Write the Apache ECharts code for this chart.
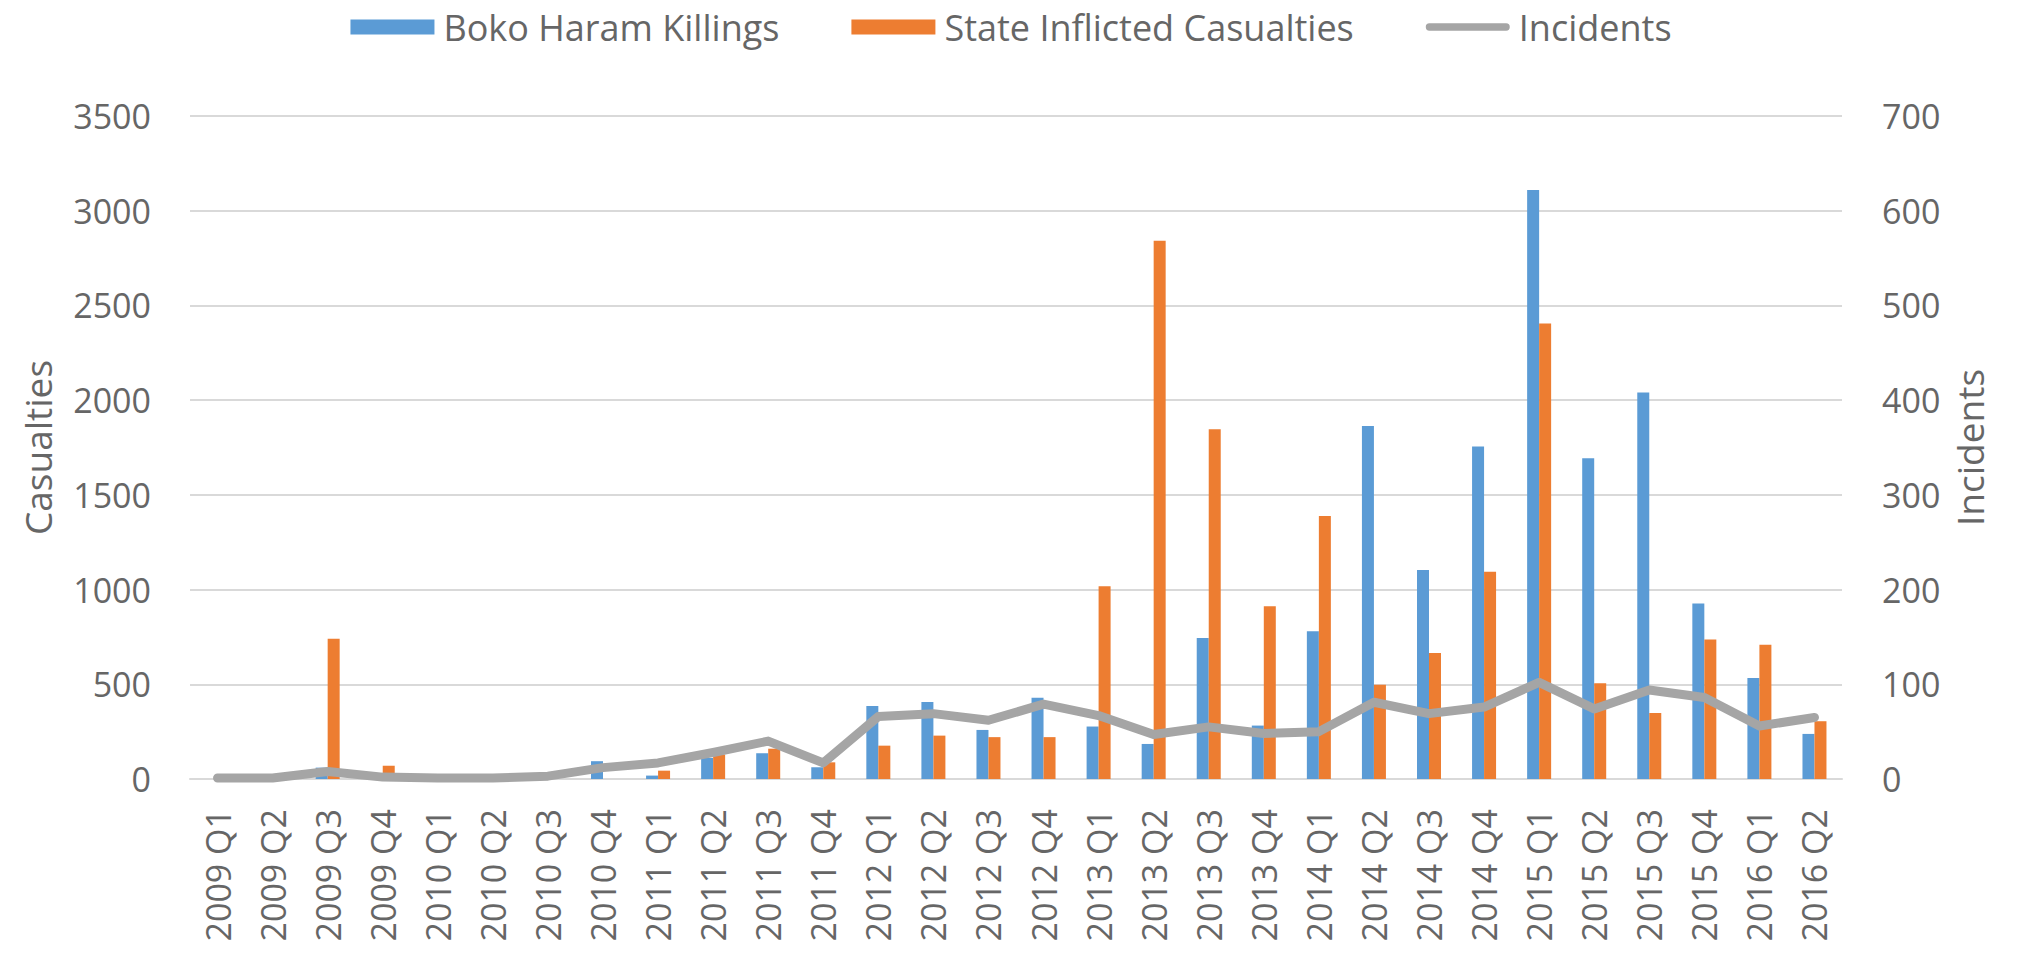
<!DOCTYPE html>
<html>
<head>
<meta charset="utf-8">
<title>Boko Haram Killings, State Inflicted Casualties and Incidents</title>
<script src="https://cdn.jsdelivr.net/npm/echarts@6/dist/echarts.min.js"></script>
<style>
  html, body { margin: 0; padding: 0; background: #ffffff; }
  #chart { width: 2022px; height: 954px; }
</style>
</head>
<body>
<div id="chart"></div>
<script>
// Quarterly periods
const quarters = [
  '2009 Q1', '2009 Q2', '2009 Q3', '2009 Q4',
  '2010 Q1', '2010 Q2', '2010 Q3', '2010 Q4',
  '2011 Q1', '2011 Q2', '2011 Q3', '2011 Q4',
  '2012 Q1', '2012 Q2', '2012 Q3', '2012 Q4',
  '2013 Q1', '2013 Q2', '2013 Q3', '2013 Q4',
  '2014 Q1', '2014 Q2', '2014 Q3', '2014 Q4',
  '2015 Q1', '2015 Q2', '2015 Q3', '2015 Q4',
  '2016 Q1', '2016 Q2'
];

// Casualties (left axis)
const bokoHaramKillings = [
  0, 0, 60, 10, 0, 0, 0, 94, 18, 111,
  136, 62, 385, 406, 259, 429, 277, 185, 745, 282,
  780, 1864, 1103, 1755, 3109, 1693, 2041, 926, 533, 238
];
const stateInflictedCasualties = [
  0, 0, 741, 70, 0, 0, 0, 0, 44, 129,
  160, 88, 176, 229, 221, 221, 1018, 2842, 1846, 912,
  1389, 498, 665, 1094, 2404, 506, 349, 736, 709, 305
];

// Incidents (right axis)
const incidents = [
  1, 1, 8, 2, 1, 1, 3, 12, 17, 28,
  40, 17, 66, 69, 62, 79, 67, 47, 55, 48,
  50, 81, 69, 76, 102, 74, 94, 86, 56, 65
];

const textColor = '#666666';
const gridColor = '#d9d9d9';
const fontFamily = '"Open Sans", "Noto Sans", sans-serif';

const chart = echarts.init(document.getElementById('chart'), null, { renderer: 'svg' });

chart.setOption({
  animation: false,
  backgroundColor: '#ffffff',
  textStyle: { fontFamily: fontFamily, color: textColor },
  legend: {
    top: 4,
    left: 'center',
    itemWidth: 84,
    itemHeight: 15,
    itemGap: 72,
    textStyle: { fontSize: 36, color: textColor, fontFamily: fontFamily, padding: [0, 0, 0, 4] },
    data: [
      { name: 'Boko Haram Killings', icon: 'rect' },
      { name: 'State Inflicted Casualties', icon: 'rect' },
      { name: 'Incidents', icon: 'path://M4,0 H88 A4,4 0 0 1 88,8 H4 A4,4 0 0 1 4,0 Z' }
    ]
  },
  grid: { left: 190, right: 180, top: 116, bottom: 175, containLabel: false },
  xAxis: {
    type: 'category',
    data: quarters,
    boundaryGap: true,
    axisLine: { show: true, lineStyle: { color: gridColor, width: 2 } },
    axisTick: { show: false },
    axisLabel: {
      rotate: 90,
      margin: 30,
      interval: 0,
      fontSize: 34,
      color: textColor,
      fontFamily: fontFamily
    }
  },
  yAxis: [
    {
      type: 'value',
      name: 'Casualties',
      nameLocation: 'middle',
      nameRotate: 90,
      nameGap: 134,
      nameTextStyle: { fontSize: 37, color: textColor, fontFamily: fontFamily },
      min: 0,
      max: 3500,
      interval: 500,
      axisLine: { show: false },
      axisTick: { show: false },
      axisLabel: {
        margin: 39,
        fontSize: 34,
        color: textColor,
        fontFamily: fontFamily,
        formatter: function (v) { return String(v); }
      },
      splitLine: { show: true, lineStyle: { color: gridColor, width: 2 } }
    },
    {
      type: 'value',
      name: 'Incidents',
      nameLocation: 'middle',
      nameRotate: 90,
      nameGap: 91,
      nameTextStyle: { fontSize: 37, color: textColor, fontFamily: fontFamily },
      min: 0,
      max: 700,
      interval: 100,
      axisLine: { show: false },
      axisTick: { show: false },
      axisLabel: {
        margin: 40,
        fontSize: 34,
        color: textColor,
        fontFamily: fontFamily,
        formatter: function (v) { return String(v); }
      },
      splitLine: { show: false }
    }
  ],
  series: [
    {
      name: 'Boko Haram Killings',
      type: 'bar',
      yAxisIndex: 0,
      data: bokoHaramKillings,
      barWidth: 12,
      barGap: '0%',
      itemStyle: { color: '#5b9bd5' },
      z: 2
    },
    {
      name: 'State Inflicted Casualties',
      type: 'bar',
      yAxisIndex: 0,
      data: stateInflictedCasualties,
      barWidth: 12,
      barGap: '0%',
      itemStyle: { color: '#ed7d31' },
      z: 2
    },
    {
      name: 'Incidents',
      type: 'line',
      yAxisIndex: 1,
      data: incidents,
      symbol: 'none',
      showSymbol: false,
      itemStyle: { color: '#a5a5a5' },
      lineStyle: { color: '#a5a5a5', width: 9, cap: 'round', join: 'round' },
      z: 3
    }
  ]
});
</script>
</body>
</html>
